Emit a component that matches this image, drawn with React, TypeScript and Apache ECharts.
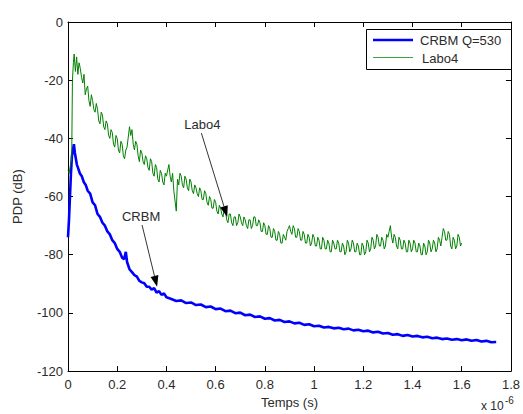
import React, { useEffect, useRef } from "react";
import * as echarts from "echarts";

// Time in microseconds (axis shown as x 10^-6 s), PDP in dB
const crbm: [number, number][] = [
  [0.0, -74], [0.004, -68], [0.008, -60], [0.012, -52], [0.016, -46], [0.02, -44], [0.024, -42],
  [0.028, -45], [0.032, -47], [0.036, -49], [0.04, -50], [0.048, -52], [0.056, -53], [0.064, -55],
  [0.072, -56], [0.08, -58], [0.09, -59], [0.1, -62], [0.11, -63], [0.12, -66], [0.13, -67],
  [0.14, -69], [0.15, -70], [0.16, -72], [0.17, -73], [0.18, -75], [0.19, -76], [0.2, -78],
  [0.21, -79], [0.22, -81], [0.228, -81.5], [0.235, -79], [0.24, -82.5], [0.25, -85],
  [0.26, -86], [0.27, -87], [0.28, -87.5], [0.29, -89], [0.3, -89.5], [0.31, -89.8], [0.32, -91],
  [0.33, -91], [0.34, -92], [0.35, -91.5], [0.36, -93], [0.37, -92.5], [0.38, -93.8], [0.39, -93.3],
  [0.4, -94.6], [0.42, -95.2], [0.44, -95.9], [0.46, -95.7], [0.48, -96.6], [0.5, -96.4],
  [0.52, -97.3], [0.54, -97.1], [0.56, -98], [0.58, -97.8], [0.6, -98.7], [0.62, -98.5],
  [0.64, -99.4], [0.66, -99.2], [0.68, -100.1], [0.7, -99.9], [0.72, -100.8], [0.74, -100.6],
  [0.76, -101.4], [0.78, -101.2], [0.8, -102], [0.82, -101.8], [0.84, -102.6], [0.86, -102.4],
  [0.88, -103.1], [0.9, -102.9], [0.92, -103.6], [0.94, -103.4], [0.96, -104.1], [0.98, -103.9],
  [1.0, -104.6], [1.02, -104.4], [1.04, -105], [1.06, -104.8], [1.08, -105.3], [1.1, -105.1],
  [1.12, -105.6], [1.14, -105.4], [1.16, -106], [1.18, -105.8], [1.2, -106.3], [1.22, -106.1],
  [1.24, -106.7], [1.26, -106.5], [1.28, -107.1], [1.3, -106.9], [1.32, -107.5], [1.34, -107.3],
  [1.36, -107.9], [1.38, -107.6], [1.4, -108.1], [1.42, -107.9], [1.44, -108.4], [1.46, -108.2],
  [1.48, -108.7], [1.5, -108.5], [1.52, -109], [1.54, -108.8], [1.56, -109.2], [1.58, -109],
  [1.6, -109.4], [1.62, -109.1], [1.64, -109.6], [1.66, -109.3], [1.68, -109.8], [1.7, -109.6],
  [1.72, -110.1], [1.74, -110],
];

const labo4: [number, number][] = [
  [0.0, -51], [0.005, -52], [0.01, -49], [0.015, -47], [0.018, -20], [0.022, -14], [0.025, -11],
  [0.03, -17], [0.035, -12], [0.04, -18], [0.045, -14], [0.05, -16], [0.055, -19], [0.06, -21],
  [0.065, -18], [0.07, -25], [0.075, -23], [0.08, -22], [0.085, -27], [0.09, -29], [0.095, -25],
  [0.1, -27], [0.105, -30], [0.11, -31], [0.115, -28], [0.12, -30], [0.125, -34], [0.13, -35],
  [0.135, -31], [0.14, -32], [0.145, -36], [0.15, -37], [0.155, -34], [0.16, -35], [0.165, -39],
  [0.17, -40], [0.175, -37], [0.18, -38], [0.185, -42], [0.19, -43], [0.195, -39], [0.2, -40],
  [0.205, -44], [0.21, -45], [0.215, -41], [0.22, -42], [0.225, -46], [0.23, -47], [0.235, -44],
  [0.24, -43], [0.25, -36], [0.255, -39], [0.26, -37], [0.265, -42], [0.27, -44], [0.275, -41],
  [0.28, -42], [0.285, -46], [0.29, -48], [0.295, -44], [0.3, -45], [0.305, -48], [0.31, -49],
  [0.315, -46], [0.32, -47], [0.325, -50], [0.33, -51], [0.335, -47], [0.34, -48], [0.345, -52],
  [0.35, -53], [0.355, -49], [0.36, -50], [0.365, -54], [0.37, -55], [0.375, -51], [0.38, -52],
  [0.385, -55], [0.39, -56], [0.395, -52], [0.4, -53], [0.41, -49], [0.415, -53], [0.42, -55],
  [0.425, -52], [0.43, -58], [0.44, -65], [0.445, -54], [0.45, -56], [0.455, -52], [0.46, -53],
  [0.465, -56], [0.47, -57], [0.475, -53], [0.48, -54], [0.485, -57], [0.49, -58], [0.495, -54],
  [0.5, -55], [0.505, -58], [0.51, -59], [0.515, -56], [0.52, -57], [0.525, -59], [0.53, -60],
  [0.535, -57], [0.54, -58], [0.545, -61], [0.55, -61], [0.555, -58], [0.56, -59], [0.565, -62],
  [0.57, -63], [0.575, -60], [0.58, -61], [0.585, -64], [0.59, -64], [0.595, -61], [0.6, -62],
  [0.605, -65], [0.61, -66], [0.615, -63], [0.62, -64], [0.625, -66], [0.63, -67], [0.635, -64],
  [0.64, -65], [0.645, -68], [0.65, -69], [0.655, -66], [0.66, -66], [0.665, -69], [0.67, -70],
  [0.675, -67], [0.68, -67], [0.685, -70], [0.69, -69], [0.695, -66], [0.7, -67], [0.705, -69],
  [0.71, -70], [0.715, -67], [0.72, -68], [0.725, -70], [0.73, -71], [0.735, -68], [0.74, -68],
  [0.745, -71], [0.75, -70], [0.755, -67], [0.76, -67], [0.765, -70], [0.77, -70], [0.775, -68],
  [0.78, -69], [0.785, -72], [0.79, -72], [0.795, -69], [0.8, -70], [0.805, -73], [0.81, -73],
  [0.815, -70], [0.82, -71], [0.825, -74], [0.83, -74], [0.835, -71], [0.84, -72], [0.845, -75],
  [0.85, -75], [0.855, -72], [0.86, -73], [0.865, -76], [0.87, -76], [0.875, -73], [0.88, -74],
  [0.885, -75], [0.89, -72], [0.895, -71], [0.9, -70], [0.905, -72], [0.91, -73], [0.915, -70],
  [0.92, -71], [0.925, -74], [0.93, -74], [0.935, -71], [0.94, -72], [0.945, -75], [0.95, -75],
  [0.955, -72], [0.96, -73], [0.965, -76], [0.97, -76], [0.975, -73], [0.98, -74], [0.985, -77],
  [0.99, -76], [0.995, -73], [1.0, -74], [1.005, -77], [1.01, -77], [1.015, -74], [1.02, -75],
  [1.025, -78], [1.03, -78], [1.035, -74], [1.04, -75], [1.045, -78], [1.05, -78], [1.055, -75],
  [1.06, -76], [1.065, -79], [1.07, -79], [1.075, -75], [1.08, -76], [1.085, -78], [1.09, -78],
  [1.095, -75], [1.1, -76], [1.105, -79], [1.11, -79], [1.115, -76], [1.12, -77], [1.125, -80],
  [1.13, -79], [1.135, -75], [1.14, -76], [1.145, -79], [1.15, -78], [1.155, -75], [1.16, -76],
  [1.165, -79], [1.17, -79], [1.175, -76], [1.18, -77], [1.185, -80], [1.19, -80], [1.195, -76],
  [1.2, -77], [1.205, -80], [1.21, -79], [1.215, -75], [1.22, -76], [1.225, -79], [1.23, -78],
  [1.235, -74], [1.24, -75], [1.245, -78], [1.25, -77], [1.255, -73], [1.26, -74], [1.265, -77],
  [1.27, -77], [1.275, -74], [1.28, -75], [1.285, -78], [1.29, -77], [1.295, -73], [1.3, -74],
  [1.305, -72], [1.31, -70], [1.315, -74], [1.32, -76], [1.325, -73], [1.33, -74], [1.335, -77],
  [1.34, -78], [1.345, -74], [1.35, -75], [1.355, -78], [1.36, -78], [1.365, -75], [1.37, -76],
  [1.375, -79], [1.38, -79], [1.385, -75], [1.39, -76], [1.395, -79], [1.4, -78], [1.405, -75],
  [1.41, -76], [1.415, -79], [1.42, -79], [1.425, -76], [1.43, -77], [1.435, -80], [1.44, -80],
  [1.445, -76], [1.45, -77], [1.455, -80], [1.46, -79], [1.465, -75], [1.47, -76], [1.475, -79],
  [1.48, -78], [1.485, -75], [1.49, -76], [1.495, -79], [1.5, -78], [1.505, -74], [1.51, -75],
  [1.515, -77], [1.52, -74], [1.525, -71], [1.53, -72], [1.535, -75], [1.54, -75], [1.545, -72],
  [1.55, -73], [1.555, -77], [1.56, -78], [1.565, -74], [1.57, -75], [1.575, -78], [1.58, -77],
  [1.585, -73], [1.59, -74], [1.595, -77], [1.6, -76],
];

const seriesNames = ["CRBM Q=530", "Labo4"];
const annotations = [
  { text: "Labo4", textAt: [0.546, -35.2], tail: [0.542, -38.2], tip: [0.647, -67] },
  { text: "CRBM", textAt: [0.297, -66.7], tail: [0.301, -69.8], tip: [0.362, -91] },
];

const FONT = "'Liberation Sans', Arial, Helvetica, sans-serif";
const TXT = "#2b2b2b";

export default function App() {
  const ref = useRef<HTMLDivElement>(null);
  useEffect(() => {
    const chart = echarts.init(ref.current!, null, { renderer: "svg" });
    const axisCommon = {
      type: "value",
      axisLine: { show: true, onZero: false, lineStyle: { color: "#000", width: 1 } },
      axisTick: { show: true, inside: true, length: 5, lineStyle: { color: "#000" } },
      splitLine: { show: false },
    };
    const option: any = {
      animation: false,
      backgroundColor: "#ffffff",
      grid: { left: 68, top: 22, right: 7, bottom: 41 },
      xAxis: [
        {
          ...axisCommon,
          min: 0,
          max: 1.8,
          interval: 0.2,
          position: "bottom",
          axisLabel: {
            color: TXT,
            fontSize: 13,
            fontFamily: FONT,
            margin: 7,
            formatter: (v: number) => String(Math.round(v * 10) / 10),
          },
          name: "Temps (s)",
          nameLocation: "middle",
          nameGap: 24,
          nameTextStyle: { color: TXT, fontSize: 13, fontFamily: FONT, verticalAlign: "top" },
        },
        {
          ...axisCommon,
          min: 0,
          max: 1.8,
          interval: 0.2,
          position: "top",
          axisLabel: { show: false },
        },
      ],
      yAxis: [
        {
          ...axisCommon,
          min: -120,
          max: 0,
          interval: 20,
          position: "left",
          axisLabel: { color: TXT, fontSize: 13, fontFamily: FONT, margin: 5 },
          name: "PDP (dB)",
          nameLocation: "middle",
          nameGap: 44,
          nameRotate: 90,
          nameTextStyle: { color: TXT, fontSize: 13, fontFamily: FONT },
        },
        {
          ...axisCommon,
          min: -120,
          max: 0,
          interval: 20,
          position: "right",
          axisLabel: { show: false },
        },
      ],
      series: [
        {
          type: "line",
          name: seriesNames[0],
          data: crbm,
          xAxisIndex: 0,
          yAxisIndex: 0,
          showSymbol: false,
          symbol: "none",
          silent: true,
          lineStyle: { color: "#0000ff", width: 2.6 },
          z: 2,
        },
        {
          type: "line",
          name: seriesNames[1],
          data: labo4,
          xAxisIndex: 0,
          yAxisIndex: 0,
          showSymbol: false,
          symbol: "none",
          silent: true,
          lineStyle: { color: "#008000", width: 1 },
          z: 3,
        },
      ],
    };
    chart.setOption(option);

    const toPx = (p: number[]) =>
      chart.convertToPixel({ xAxisIndex: 0, yAxisIndex: 0 }, p) as number[];

    const graphics: any[] = [];
    annotations.forEach((a) => {
      const t = toPx(a.textAt);
      const s = toPx(a.tail);
      const e = toPx(a.tip);
      graphics.push({
        type: "text",
        x: t[0],
        y: t[1],
        style: { text: a.text, fill: TXT, font: `13px ${FONT}`, align: "center", verticalAlign: "middle" },
        z: 10,
      });
      const dx = e[0] - s[0];
      const dy = e[1] - s[1];
      const len = Math.sqrt(dx * dx + dy * dy);
      const ux = dx / len;
      const uy = dy / len;
      const hl = 11;
      const hw = 4;
      const bx = e[0] - ux * hl;
      const by = e[1] - uy * hl;
      graphics.push({
        type: "line",
        shape: { x1: s[0], y1: s[1], x2: bx, y2: by },
        style: { stroke: "#000", lineWidth: 0.8 },
        z: 10,
      });
      graphics.push({
        type: "polygon",
        shape: {
          points: [
            [e[0], e[1]],
            [bx - uy * hw, by + ux * hw],
            [bx + uy * hw, by - ux * hw],
          ],
        },
        style: { fill: "#000" },
        z: 10,
      });
    });

    // legend box
    const lx = 366, ly = 29, lw = 145, lh = 40;
    graphics.push({
      type: "rect",
      shape: { x: lx + 0.5, y: ly + 0.5, width: lw, height: lh },
      style: { fill: "#fff", stroke: "#000", lineWidth: 1 },
      z: 20,
    });
    graphics.push({
      type: "line",
      shape: { x1: 373, y1: 40, x2: 413, y2: 40 },
      style: { stroke: "#0000ff", lineWidth: 2.6 },
      z: 21,
    });
    graphics.push({
      type: "text",
      x: 420,
      y: 40,
      style: { text: seriesNames[0], fill: TXT, font: `13px ${FONT}`, verticalAlign: "middle" },
      z: 21,
    });
    graphics.push({
      type: "line",
      shape: { x1: 373, y1: 57.5, x2: 413, y2: 57.5 },
      style: { stroke: "#40a040", lineWidth: 1 },
      z: 21,
    });
    graphics.push({
      type: "text",
      x: 422,
      y: 58,
      style: { text: seriesNames[1], fill: TXT, font: `13px ${FONT}`, verticalAlign: "middle" },
      z: 21,
    });
    // exponent
    graphics.push({
      type: "text",
      x: 481,
      y: 400,
      style: { text: "x 10", fill: TXT, font: `12px ${FONT}`, verticalAlign: "top" },
      z: 21,
    });
    graphics.push({
      type: "text",
      x: 505,
      y: 395,
      style: { text: "-6", fill: TXT, font: `10px ${FONT}`, verticalAlign: "top" },
      z: 21,
    });

    chart.setOption({ graphic: graphics });
    return () => chart.dispose();
  }, []);

  return (
    <div
      ref={ref}
      style={{ position: "fixed", left: 0, top: 0, width: 523, height: 414, background: "#fff" }}
    />
  );
}
